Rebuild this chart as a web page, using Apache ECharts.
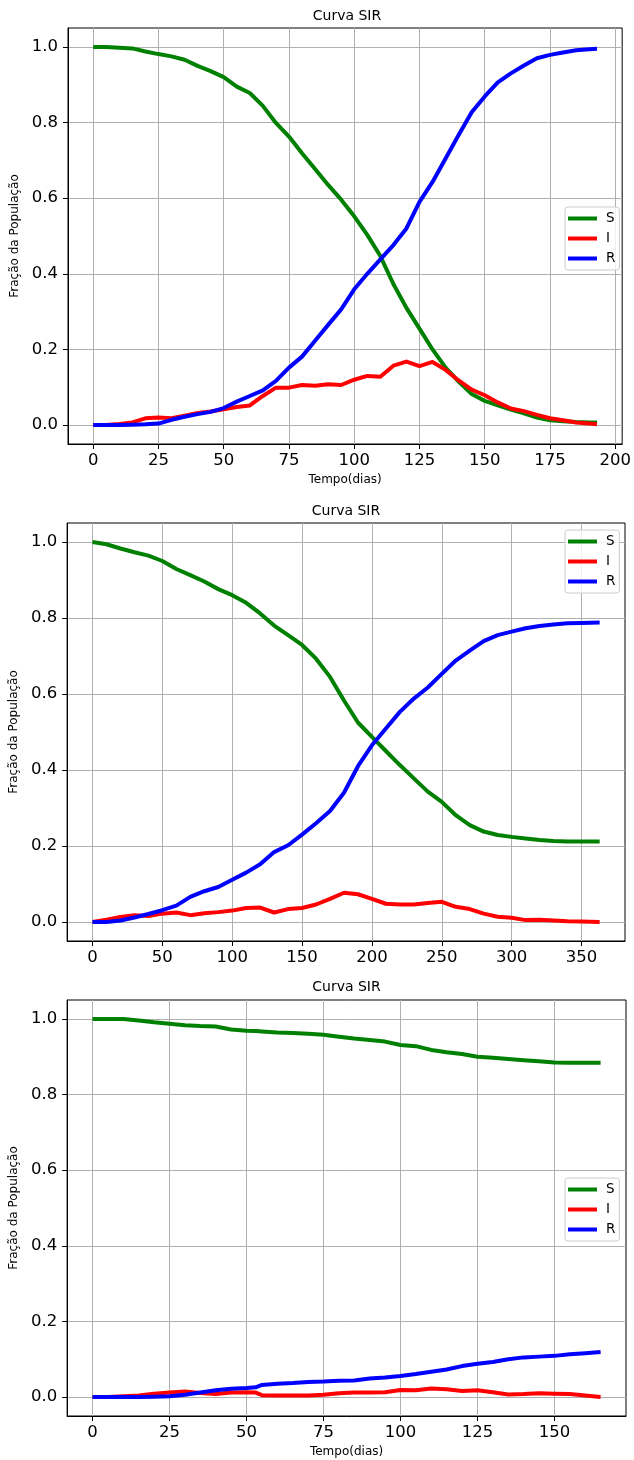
<!DOCTYPE html>
<html>
<head>
<meta charset="utf-8">
<script src="https://cdn.jsdelivr.net/npm/echarts@6/dist/echarts.min.js"></script>
<style>
  html, body { margin: 0; padding: 0; background: #fff; }
  #chart { width: 634px; height: 1460px; }
</style>
</head>
<body>
<div id="chart"></div>
<script>
// painel 1
const days1 = [0, 5, 10, 15, 20, 25, 30, 35, 40, 45, 50, 55, 60, 65, 70, 75, 80, 85, 90, 95, 100, 105, 110, 115, 120, 125, 130, 135, 140, 145, 150, 155, 160, 165, 170, 175, 180, 185, 190, 193];
const s1 = [1.000, 1.000, 0.998, 0.996, 0.988, 0.981, 0.975, 0.966, 0.950, 0.936, 0.920, 0.895, 0.878, 0.844, 0.799, 0.763, 0.719, 0.677, 0.635, 0.596, 0.552, 0.503, 0.447, 0.373, 0.310, 0.255, 0.200, 0.152, 0.115, 0.082, 0.064, 0.052, 0.041, 0.031, 0.020, 0.013, 0.010, 0.008, 0.007, 0.007];
const i1 = [0.000, 0.000, 0.003, 0.007, 0.018, 0.020, 0.018, 0.025, 0.032, 0.036, 0.042, 0.048, 0.052, 0.077, 0.099, 0.099, 0.106, 0.104, 0.108, 0.106, 0.120, 0.130, 0.128, 0.157, 0.168, 0.156, 0.167, 0.146, 0.118, 0.094, 0.079, 0.060, 0.044, 0.037, 0.027, 0.018, 0.013, 0.007, 0.004, 0.002];
const r1 = [0.000, 0.000, 0.000, 0.001, 0.002, 0.004, 0.014, 0.022, 0.029, 0.035, 0.045, 0.062, 0.077, 0.092, 0.117, 0.152, 0.181, 0.223, 0.265, 0.306, 0.359, 0.400, 0.438, 0.476, 0.520, 0.590, 0.643, 0.705, 0.767, 0.827, 0.869, 0.906, 0.930, 0.951, 0.970, 0.979, 0.985, 0.991, 0.994, 0.995];
const xTicks1 = [0, 25, 50, 75, 100, 125, 150, 175, 200];

// painel 2
const days2 = [0, 10, 20, 30, 40, 50, 60, 70, 80, 90, 100, 110, 120, 130, 140, 150, 160, 170, 180, 190, 200, 210, 220, 230, 240, 250, 260, 270, 280, 290, 300, 310, 320, 330, 340, 350, 363];
const s2 = [1.000, 0.994, 0.983, 0.973, 0.964, 0.950, 0.929, 0.913, 0.896, 0.876, 0.860, 0.840, 0.812, 0.780, 0.755, 0.729, 0.693, 0.645, 0.583, 0.525, 0.487, 0.450, 0.413, 0.378, 0.343, 0.316, 0.281, 0.255, 0.238, 0.229, 0.224, 0.220, 0.216, 0.213, 0.212, 0.212, 0.212];
const i2 = [0.000, 0.006, 0.013, 0.018, 0.016, 0.022, 0.025, 0.018, 0.023, 0.026, 0.030, 0.037, 0.038, 0.025, 0.034, 0.037, 0.046, 0.061, 0.077, 0.073, 0.061, 0.048, 0.046, 0.046, 0.050, 0.053, 0.040, 0.034, 0.022, 0.014, 0.011, 0.005, 0.006, 0.004, 0.002, 0.001, 0.000];
const r2 = [0.000, 0.000, 0.004, 0.012, 0.021, 0.031, 0.043, 0.066, 0.081, 0.092, 0.111, 0.130, 0.152, 0.184, 0.202, 0.230, 0.260, 0.292, 0.340, 0.410, 0.465, 0.509, 0.553, 0.588, 0.617, 0.653, 0.688, 0.714, 0.739, 0.755, 0.764, 0.773, 0.779, 0.783, 0.786, 0.787, 0.788];
const xTicks2 = [0, 50, 100, 150, 200, 250, 300, 350];

// painel 3
const days3 = [0, 5, 10, 15, 20, 25, 30, 35, 40, 45, 50, 53, 55, 60, 65, 70, 75, 80, 85, 90, 95, 100, 105, 110, 115, 120, 125, 130, 135, 140, 145, 150, 155, 160, 165];
const s3 = [1.000, 1.000, 1.000, 0.996, 0.991, 0.987, 0.983, 0.981, 0.980, 0.972, 0.969, 0.968, 0.967, 0.964, 0.963, 0.961, 0.958, 0.953, 0.948, 0.944, 0.940, 0.931, 0.928, 0.918, 0.912, 0.907, 0.900, 0.897, 0.894, 0.891, 0.888, 0.885, 0.884, 0.884, 0.884];
const i3 = [0.000, 0.000, 0.002, 0.004, 0.009, 0.012, 0.015, 0.011, 0.008, 0.012, 0.013, 0.012, 0.005, 0.004, 0.004, 0.004, 0.006, 0.010, 0.012, 0.012, 0.013, 0.019, 0.018, 0.023, 0.021, 0.016, 0.018, 0.013, 0.007, 0.008, 0.010, 0.009, 0.008, 0.004, 0.000];
const r3 = [0.000, 0.000, 0.000, 0.000, 0.001, 0.002, 0.006, 0.012, 0.018, 0.022, 0.024, 0.026, 0.032, 0.035, 0.037, 0.040, 0.041, 0.043, 0.044, 0.049, 0.052, 0.056, 0.061, 0.067, 0.073, 0.082, 0.088, 0.093, 0.100, 0.105, 0.107, 0.109, 0.113, 0.116, 0.119];
const xTicks3 = [0, 25, 50, 75, 100, 125, 150];

const yTicks = [0, 0.2, 0.4, 0.6, 0.8, 1.0];
const seriesNames = ['S', 'I', 'R'];
const colors = ['#008000', '#ff0000', '#0000ff'];

const FONT = 'DejaVu Sans';
const panels = [
  { days: days1, vals: [s1, i1, r1], xTicks: xTicks1, grid: { left: 68, top: 28, width: 558, height: 416 }, legendTop: 207, titleY: 16, xName: 'Tempo(dias)' },
  { days: days2, vals: [s2, i2, r2], xTicks: xTicks2, grid: { left: 67, top: 523, width: 558, height: 418 }, legendTop: 530, titleY: 511, xName: '' },
  { days: days3, vals: [s3, i3, r3], xTicks: xTicks3, grid: { left: 67, top: 1000, width: 559, height: 416 }, legendTop: 1178, titleY: 987, xName: 'Tempo(dias)' }
];

const chart = echarts.init(document.getElementById('chart'));

const axisCommon = {
  axisLine: { show: true, onZero: false, lineStyle: { color: '#000', width: 1 } },
  splitLine: { show: true, lineStyle: { color: '#b0b0b0', width: 1 } }
};

const option = {
  animation: false,
  backgroundColor: '#fff',
  grid: panels.map(p => Object.assign({ show: true, borderColor: '#000', borderWidth: 1, backgroundColor: 'transparent' }, p.grid)),
  xAxis: panels.map((p, k) => {
    const last = p.days[p.days.length - 1];
    return Object.assign({}, axisCommon, {
      type: 'value',
      gridIndex: k,
      position: 'bottom',
      min: -0.05 * last,
      max: 1.05 * last,
      name: p.xName,
      nameLocation: 'middle',
      nameGap: 30,
      nameTextStyle: { fontFamily: FONT, fontSize: 12, color: '#000' },
      axisTick: { show: true, customValues: p.xTicks, length: 5, lineStyle: { color: '#000' } },
      axisLabel: { customValues: p.xTicks, fontFamily: FONT, fontSize: 16.5, color: '#000', margin: 8 }
    });
  }),
  yAxis: panels.map((p, k) => Object.assign({}, axisCommon, {
    type: 'value',
    gridIndex: k,
    position: 'left',
    min: -0.05,
    max: 1.05,
    name: 'Fração da População',
    nameLocation: 'middle',
    nameRotate: 90,
    nameGap: 45,
    nameTextStyle: { fontFamily: FONT, fontSize: 12, color: '#000' },
    axisTick: { show: true, customValues: yTicks, length: 5, lineStyle: { color: '#000' } },
    axisLabel: { customValues: yTicks, fontFamily: FONT, fontSize: 16.5, color: '#000', margin: 10, formatter: v => v.toFixed(1) }
  })),
  legend: panels.map(p => ({
    data: seriesNames,
    orient: 'vertical',
    left: 565,
    top: p.legendTop,
    icon: 'rect',
    itemWidth: 29,
    itemHeight: 4,
    itemGap: 6,
    padding: [4.5, 4, 4.5, 3],
    backgroundColor: 'rgba(255,255,255,0.8)',
    borderColor: '#cccccc',
    borderWidth: 1,
    borderRadius: 3,
    selectedMode: false,
    textStyle: { fontFamily: FONT, fontSize: 13.5, color: '#000', lineHeight: 13, padding: [0, 0, 0, 4] }
  })),
  graphic: panels.map(p => ({
    type: 'text',
    x: p.grid.left + p.grid.width / 2,
    y: p.titleY,
    style: {
      text: 'Curva SIR',
      fill: '#000',
      fontFamily: FONT,
      fontSize: 14,
      textAlign: 'center',
      textVerticalAlign: 'middle',
      align: 'center',
      verticalAlign: 'middle'
    }
  })),
  series: []
};

panels.forEach((p, k) => {
  p.vals.forEach((vals, j) => {
    option.series.push({
      name: seriesNames[j],
      type: 'line',
      xAxisIndex: k,
      yAxisIndex: k,
      symbol: 'none',
      color: colors[j],
      lineStyle: { width: 4, color: colors[j], join: 'round' },
      data: p.days.map((d, n) => [d, vals[n]])
    });
  });
});

chart.setOption(option);
</script>
</body>
</html>
